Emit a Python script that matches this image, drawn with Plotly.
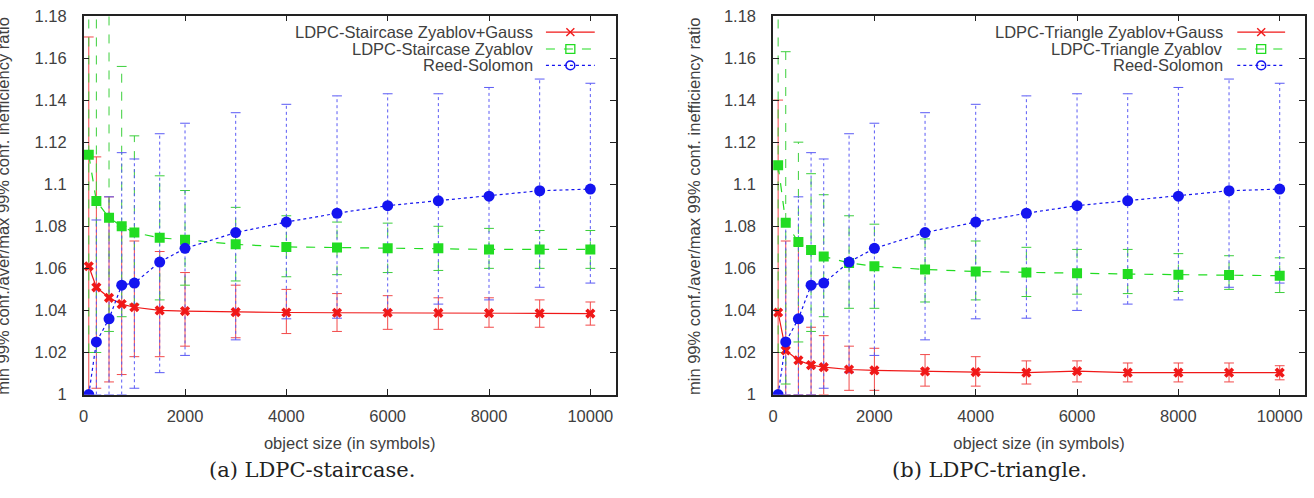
import plotly.graph_objects as go

# ---------------- data ----------------
sizes = [100, 250, 500, 750, 1000, 1500, 2000, 3000, 4000, 5000, 6000, 7000, 8000, 9000, 10000]

# (a) LDPC-staircase
stair_gauss_avg = [1.061, 1.051, 1.046, 1.043, 1.0415, 1.040, 1.0397, 1.0392, 1.039, 1.0389, 1.0389, 1.0388, 1.0387, 1.0386, 1.0385]
stair_gauss_min = [1.000, 1.003, 1.006, 1.0095, 1.018, 1.018, 1.023, 1.027, 1.029, 1.030, 1.031, 1.031, 1.032, 1.032, 1.033]
stair_gauss_max = [1.170, 1.113, 1.094, 1.080, 1.073, 1.068, 1.058, 1.052, 1.050, 1.048, 1.047, 1.046, 1.046, 1.045, 1.044]

stair_zyab_avg = [1.114, 1.092, 1.084, 1.080, 1.077, 1.0745, 1.0736, 1.0714, 1.0702, 1.0699, 1.0695, 1.0695, 1.069, 1.069, 1.069]
stair_zyab_min = [1.020, 1.020, 1.030, 1.037, 1.043, 1.045, 1.052, 1.054, 1.056, 1.057, 1.058, 1.059, 1.060, 1.060, 1.060]
stair_zyab_max = [1.250, 1.250, 1.250, 1.156, 1.123, 1.104, 1.097, 1.089, 1.085, 1.082, 1.0815, 1.080, 1.079, 1.078, 1.078]

# Reed-Solomon (same in both panels)
rs_avg = [1.000, 1.025, 1.036, 1.052, 1.053, 1.063, 1.0695, 1.077, 1.082, 1.0862, 1.0898, 1.0921, 1.0943, 1.0969, 1.0977]
rs_min = [1.000, 1.000, 1.000, 1.000, 1.003, 1.0104, 1.0186, 1.026, 1.036, 1.0363, 1.040, 1.043, 1.045, 1.051, 1.053]
rs_max = [1.000, 1.083, 1.094, 1.115, 1.112, 1.124, 1.129, 1.134, 1.138, 1.142, 1.143, 1.143, 1.146, 1.150, 1.148]

# (b) LDPC-triangle
tri_gauss_avg = [1.039, 1.021, 1.0163, 1.014, 1.013, 1.0119, 1.0115, 1.011, 1.0107, 1.0104, 1.0111, 1.0104, 1.0104, 1.0104, 1.0104]
tri_gauss_min = [1.000, 1.000, 1.000, 1.000, 1.000, 1.002, 1.002, 1.004, 1.004, 1.005, 1.006, 1.006, 1.006, 1.006, 1.007]
tri_gauss_max = [1.140, 1.073, 1.071, 1.032, 1.028, 1.023, 1.022, 1.019, 1.018, 1.016, 1.016, 1.015, 1.015, 1.015, 1.0137]

tri_zyab_avg = [1.109, 1.0817, 1.0725, 1.0687, 1.0656, 1.0626, 1.061, 1.0595, 1.0585, 1.058, 1.0577, 1.0573, 1.057, 1.0568, 1.0565]
tri_zyab_min = [1.020, 1.005, 1.025, 1.030, 1.037, 1.041, 1.041, 1.044, 1.045, 1.0466, 1.0477, 1.048, 1.049, 1.050, 1.0485]
tri_zyab_max = [1.250, 1.163, 1.120, 1.105, 1.095, 1.085, 1.081, 1.074, 1.073, 1.070, 1.069, 1.069, 1.067, 1.066, 1.065]

names_a = ["LDPC-Staircase Zyablov+Gauss", "LDPC-Staircase Zyablov", "Reed-Solomon"]
names_b = ["LDPC-Triangle Zyablov+Gauss", "LDPC-Triangle Zyablov", "Reed-Solomon"]
captions = ["(a) LDPC-staircase.", "(b) LDPC-triangle."]
x_title = "object size (in symbols)"
y_title = "min 99% conf./aver/max 99% conf. inefficiency ratio"
x_ticks = [0, 2000, 4000, 6000, 8000, 10000]
y_ticks = [1, 1.02, 1.04, 1.06, 1.08, 1.1, 1.12, 1.14, 1.16, 1.18]

# ---------------- style ----------------
W, H = 1314, 498
styles = [
    dict(color="#f01818", ecolor="#f24a4a", dash="solid", symbol="x", msize=9),
    dict(color="#22dc22", ecolor="#3ccf3c", dash="dash", symbol="square", msize=10),
    dict(color="#1414f0", ecolor="#5a5af5", dash="dot", symbol="circle", msize=11),
]
FONT = "Liberation Sans, Arial, sans-serif"
FS = 16.5
TXT = "#404040"

def px(x):
    return x / W

def py(y):
    return 1 - y / H

panels = [
    dict(xd=[px(79), px(613)], series=[(stair_gauss_avg, stair_gauss_min, stair_gauss_max),
                                      (stair_zyab_avg, stair_zyab_min, stair_zyab_max),
                                      (rs_avg, rs_min, rs_max)],
         names=names_a, leg_text_x=532, leg_s0=543, leg_s1=592, cap_x=308, ytitle_x=-2),
    dict(xd=[px(771), px(1305)], series=[(tri_gauss_avg, tri_gauss_min, tri_gauss_max),
                                        (tri_zyab_avg, tri_zyab_min, tri_zyab_max),
                                        (rs_avg, rs_min, rs_max)],
         names=names_b, leg_text_x=1225, leg_s0=1237, leg_s1=1285, cap_x=988, ytitle_x=691),
]
leg_rows = [24, 41.5, 58.5]
yd = [py(400), py(7)]

fig = go.Figure()
shapes = []
annotations = []

for i, p in enumerate(panels):
    xa = "x" if i == 0 else "x2"
    ya = "y" if i == 0 else "y2"
    # error bars
    for (avg, lo, hi), st in zip(p["series"], styles):
        ex, ey = [], []
        for xv, l, h in zip(sizes, lo, hi):
            ex += [xv, xv, None]
            ey += [l, h, None]
        fig.add_trace(go.Scatter(x=ex, y=ey, xaxis=xa, yaxis=ya, mode="lines",
                                 line=dict(color=st["ecolor"], width=1, dash=st["dash"]),
                                 showlegend=False, hoverinfo="skip"))
        fig.add_trace(go.Scatter(x=sizes + sizes, y=lo + hi, xaxis=xa, yaxis=ya, mode="markers",
                                 marker=dict(symbol="line-ew", size=7,
                                             line=dict(color=st["ecolor"], width=1)),
                                 showlegend=False, hoverinfo="skip"))
    # mean lines
    for (avg, lo, hi), st, nm in zip(p["series"], styles, p["names"]):
        fig.add_trace(go.Scatter(x=sizes, y=avg, xaxis=xa, yaxis=ya, mode="lines+markers",
                                 name=nm,
                                 line=dict(color=st["color"], width=1.2, dash=st["dash"]),
                                 marker=dict(symbol=st["symbol"], size=st["msize"], color=st["color"],
                                             line=dict(width=0)),
                                 showlegend=False))
    # custom gnuplot-like legend (text on the left, sample on the right)
    for row, st, nm in zip(leg_rows, styles, p["names"]):
        annotations.append(dict(xref="paper", yref="paper", x=px(p["leg_text_x"]), y=py(row),
                                xanchor="right", yanchor="middle", showarrow=False, text=nm,
                                font=dict(family=FONT, size=FS, color=TXT)))
        shapes.append(dict(type="line", xref="paper", yref="paper",
                           x0=px(p["leg_s0"]), x1=px(p["leg_s1"]), y0=py(row), y1=py(row),
                           line=dict(color=st["color"], width=1.2, dash=st["dash"])))
        cx = (p["leg_s0"] + p["leg_s1"]) / 2
        if st["symbol"] == "x":
            for d in (1, -1):
                shapes.append(dict(type="line", xref="paper", yref="paper",
                                   x0=px(cx - 4), x1=px(cx + 4), y0=py(row - 4 * d), y1=py(row + 4 * d),
                                   line=dict(color=st["color"], width=1.4)))
        elif st["symbol"] == "square":
            shapes.append(dict(type="rect", xref="paper", yref="paper",
                               x0=px(cx - 4.5), x1=px(cx + 4.5), y0=py(row - 4.5), y1=py(row + 4.5),
                               line=dict(color=st["color"], width=1.3), fillcolor="rgba(0,0,0,0)"))
        else:
            shapes.append(dict(type="circle", xref="paper", yref="paper",
                               x0=px(cx - 4.5), x1=px(cx + 4.5), y0=py(row - 4.5), y1=py(row + 4.5),
                               line=dict(color=st["color"], width=1.5), fillcolor="rgba(0,0,0,0)"))
    # captions & y titles
    annotations.append(dict(xref="paper", yref="paper", x=px(p["cap_x"]), y=py(478),
                            xanchor="center", yanchor="middle", showarrow=False, text=captions[i],
                            font=dict(family="DejaVu Serif, Liberation Serif, serif", size=21, color="#222")))
    annotations.append(dict(xref="paper", yref="paper", x=px(p["ytitle_x"]), y=py(204),
                            xanchor="center", yanchor="middle", showarrow=False, text=y_title,
                            textangle=-90, font=dict(family=FONT, size=FS, color=TXT)))

axis_common = dict(showline=True, linecolor="#222", linewidth=1.5, mirror="ticks",
                   ticks="inside", ticklen=6, tickwidth=1, tickcolor="#222",
                   showgrid=False, zeroline=False, ticklabeloverflow="allow",
                   tickfont=dict(family=FONT, size=FS, color=TXT))

layout = dict(width=W, height=H, margin=dict(l=0, r=0, t=0, b=0),
              paper_bgcolor="white", plot_bgcolor="white", showlegend=False,
              shapes=shapes, annotations=annotations)
for i, p in enumerate(panels):
    xk = "xaxis" if i == 0 else "xaxis2"
    yk = "yaxis" if i == 0 else "yaxis2"
    layout[xk] = dict(axis_common, domain=p["xd"], range=[0, 10500], tickvals=x_ticks,
                      ticktext=[str(v) for v in x_ticks], anchor="y" if i == 0 else "y2",
                      ticklabelstandoff=6,
                      title=dict(text=x_title, standoff=13, font=dict(family=FONT, size=FS, color=TXT)))
    layout[yk] = dict(axis_common, domain=yd, range=[1, 1.1801], tickvals=y_ticks,
                      ticktext=[f"{v:g}" for v in y_ticks], anchor="x" if i == 0 else "x2",
                      ticklabelstandoff=12)

fig.update_layout(**layout)
fig.write_html("out.html")
